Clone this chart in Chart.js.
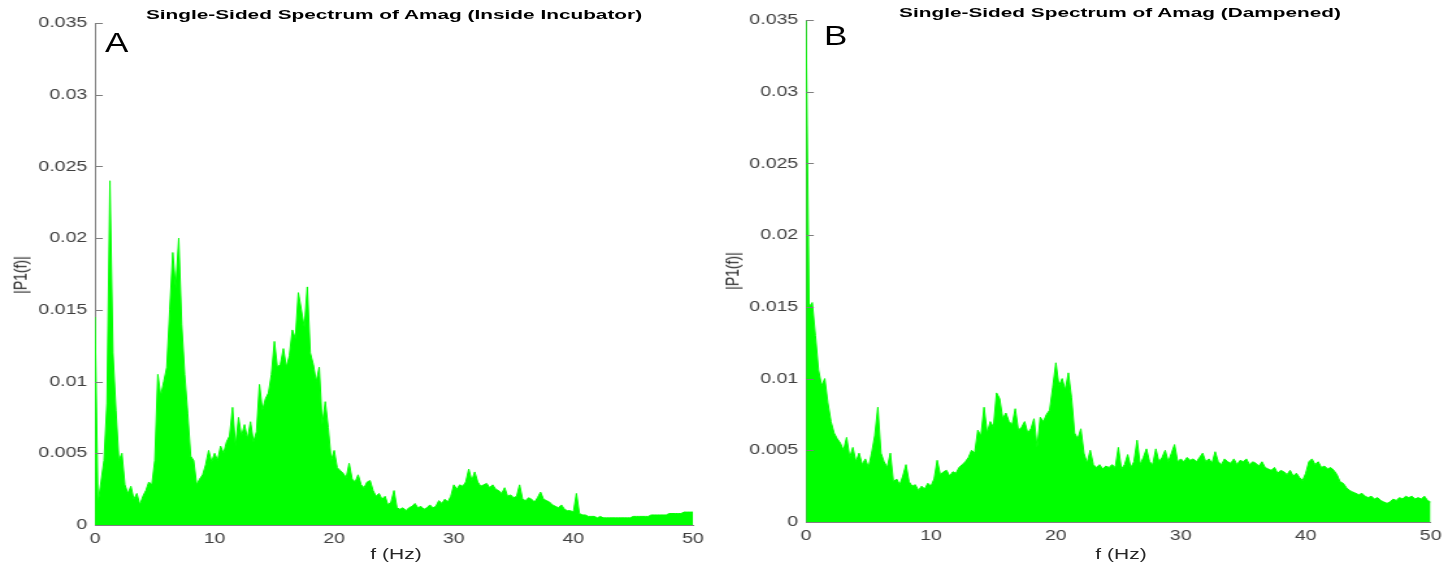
<!DOCTYPE html>
<html>
<head>
<meta charset="utf-8">
<script src="https://cdn.jsdelivr.net/npm/chart.js@4.4.1/dist/chart.umd.min.js"></script>
<style>
  body { margin: 0; background: #fff; width: 1448px; height: 564px; position: relative; overflow: hidden;
         font-family: "Liberation Sans", Arial, sans-serif; }
  .panel { position: absolute; top: 0; height: 564px; transform: scaleX(1.3); transform-origin: 0 0; }
  #panelA { left: 0; width: 554px; }
  #panelB { left: 720px; width: 560px; }
  .txt { position: absolute; white-space: nowrap; color: #000; }
  .title { font-weight: bold; font-size: 13px; line-height: 13px; transform: translateX(-50%) scaleX(1.6); }
  .letter { font-size: 28px; line-height: 28px; transform: scaleX(1.25); transform-origin: 0 0; }
  .ylab { font-size: 14px; line-height: 14px; color: #262626; transform: translate(-50%, -50%) rotate(-90deg) scaleY(1.3); }
  .xlab { font-size: 14px; line-height: 14px; color: #262626; transform: translate(-50%, -50%) scaleX(1.5); }
</style>
</head>
<body>
<div class="panel" id="panelA"><canvas id="chartA"></canvas></div>
<div class="panel" id="panelB"><canvas id="chartB"></canvas></div>

<div class="txt title" style="left:394px;top:8px">Single-Sided Spectrum of Amag (Inside Incubator)</div>
<div class="txt title" style="left:1120px;top:6px">Single-Sided Spectrum of Amag (Dampened)</div>
<div class="txt letter" style="left:105px;top:29px">A</div>
<div class="txt letter" style="left:824px;top:22px">B</div>
<div class="txt ylab" style="left:20px;top:275px">|P1(f)|</div>
<div class="txt ylab" style="left:732px;top:271px">|P1(f)|</div>
<div class="txt xlab" style="left:396px;top:554px">f (Hz)</div>
<div class="txt xlab" style="left:1121px;top:554px">f (Hz)</div>

<script>
// amplitudes in units of 1e-4, one value every 0.25 Hz from 0 to 50 Hz
const SCALE = 1e-4;
const freqStep = 0.25;

// A: inside incubator
const ampA = [
  145, 15, 30, 45, 85, 240, 120, 80, 45, 50,
  28, 22, 27, 18, 22, 14, 20, 24, 30, 28,
  45, 105, 90, 100, 110, 150, 190, 165, 200, 140,
  105, 78, 48, 45, 28, 32, 35, 42, 52, 44,
  50, 45, 55, 50, 58, 62, 82, 55, 75, 62,
  70, 60, 72, 58, 65, 98, 80, 88, 92, 105,
  128, 110, 112, 123, 110, 118, 136, 130, 162, 150,
  138, 166, 120, 112, 100, 110, 70, 86, 68, 45,
  52, 40, 38, 36, 33, 43, 32, 30, 35, 28,
  26, 30, 31, 24, 20, 22, 18, 20, 14, 16,
  24, 12, 11, 12, 10, 12, 13, 15, 12, 13,
  11, 12, 14, 12, 13, 17, 15, 18, 16, 20,
  28, 25, 28, 27, 30, 39, 31, 37, 30, 27,
  28, 29, 26, 28, 25, 24, 22, 26, 20, 21,
  19, 20, 28, 18, 17, 19, 18, 16, 19, 23,
  18, 17, 16, 14, 13, 12, 14, 11, 10, 10,
  9, 22, 8, 7, 7, 6, 6, 6, 5, 6,
  5, 5, 5, 5, 5, 5, 5, 5, 5, 5,
  6, 6, 6, 6, 6, 6, 7, 7, 7, 7,
  7, 7, 8, 8, 8, 8, 8, 9, 9, 9,
  9
];

// B: dampened
const ampB = [
  350, 150, 153, 130, 106, 95, 100, 83, 70, 62,
  58, 55, 50, 59, 45, 52, 42, 48, 40, 44,
  38, 48, 60, 80, 48, 42, 38, 48, 28, 30,
  26, 32, 40, 28, 25, 26, 22, 25, 23, 27,
  25, 30, 43, 33, 35, 36, 32, 35, 34, 38,
  40, 42, 45, 50, 48, 64, 60, 80, 62, 70,
  66, 90, 86, 72, 76, 70, 68, 79, 64, 66,
  70, 62, 65, 72, 52, 73, 70, 75, 78, 94,
  111, 95, 100, 92, 104, 87, 62, 58, 65, 48,
  41, 50, 40, 38, 40, 37, 39, 38, 40, 38,
  52, 37, 40, 47, 38, 42, 57, 40, 45, 51,
  42, 40, 51, 42, 45, 50, 42, 48, 54, 42,
  44, 42, 45, 43, 44, 42, 45, 48, 42, 44,
  41, 49, 42, 40, 44, 42, 41, 44, 40, 43,
  42, 44, 40, 42, 41, 39, 42, 38, 37, 36,
  38, 34, 36, 35, 33, 36, 32, 34, 31, 29,
  34, 42, 44, 40, 42, 38, 39, 37, 38, 36,
  33, 28, 27, 24, 22, 21, 20, 19, 20, 18,
  17, 18, 16, 17, 15, 14, 13, 14, 16, 15,
  17, 16, 18, 17, 18, 16, 17, 16, 18, 15,
  14
];

const freqs = ampA.map((_, i) => i * freqStep);
const yMax = 0.035;
const yStep = 0.005;
const xMax = 50;
const xStep = 10;

const axisGray = '#7f7f7f';
const tickColor = '#404040';

// MATLAB style tick marks pointing into the axes
const inwardTicks = {
  id: 'inwardTicks',
  afterDraw(chart) {
    const { ctx, chartArea, scales: { y } } = chart;
    ctx.save();
    ctx.strokeStyle = axisGray;
    ctx.lineWidth = 1;
    y.ticks.forEach(t => {
      if (t.value === 0) return;
      const py = Math.round(y.getPixelForValue(t.value)) + 0.5;
      ctx.beginPath();
      ctx.moveTo(chartArea.left, py);
      ctx.lineTo(chartArea.left + 6, py);
      ctx.stroke();
    });
    ctx.restore();
  }
};

function makeChart(id, amps, axisW, axisH, padTop, padRight) {
  const ctx = document.getElementById(id).getContext('2d');
  return new Chart(ctx, {
    type: 'line',
    data: {
      datasets: [{
        data: amps.map((a, i) => ({ x: freqs[i], y: a * SCALE })),
        borderColor: '#00ff00',
        backgroundColor: '#00ff00',
        borderWidth: 1,
        pointRadius: 0,
        fill: 'origin',
        tension: 0,
      }],
    },
    options: {
      responsive: true,
      maintainAspectRatio: false,
      animation: false,
      layout: { padding: { top: padTop, right: padRight, left: 0, bottom: 0 } },
      plugins: { legend: { display: false }, tooltip: { enabled: false } },
      scales: {
        x: {
          type: 'linear',
          min: 0,
          max: xMax,
          afterFit: s => { s.height = axisH; },
          grid: { display: false, drawTicks: false },
          border: { display: true, color: axisGray, width: 1 },
          ticks: { stepSize: xStep, padding: 5, color: tickColor, maxRotation: 0,
                   font: { family: '"Liberation Sans", Arial, sans-serif', size: 15 } },
        },
        y: {
          min: 0,
          max: yMax,
          afterFit: s => { s.width = axisW; },
          grid: { display: false, drawTicks: false },
          border: { display: true, color: axisGray, width: 1 },
          ticks: { stepSize: yStep, padding: 6, color: tickColor, autoSkip: false,
                   font: { family: '"Liberation Sans", Arial, sans-serif', size: 15 },
                   callback: v => String(parseFloat(v.toFixed(3))) },
        },
      },
    },
    plugins: [inwardTicks],
  });
}

makeChart('chartA', ampA, 95 / 1.3, 39, 23, 554 - 693 / 1.3);
makeChart('chartB', ampB, 86 / 1.3, 42, 20, 560 - 716 / 1.3);
</script>
</body>
</html>
